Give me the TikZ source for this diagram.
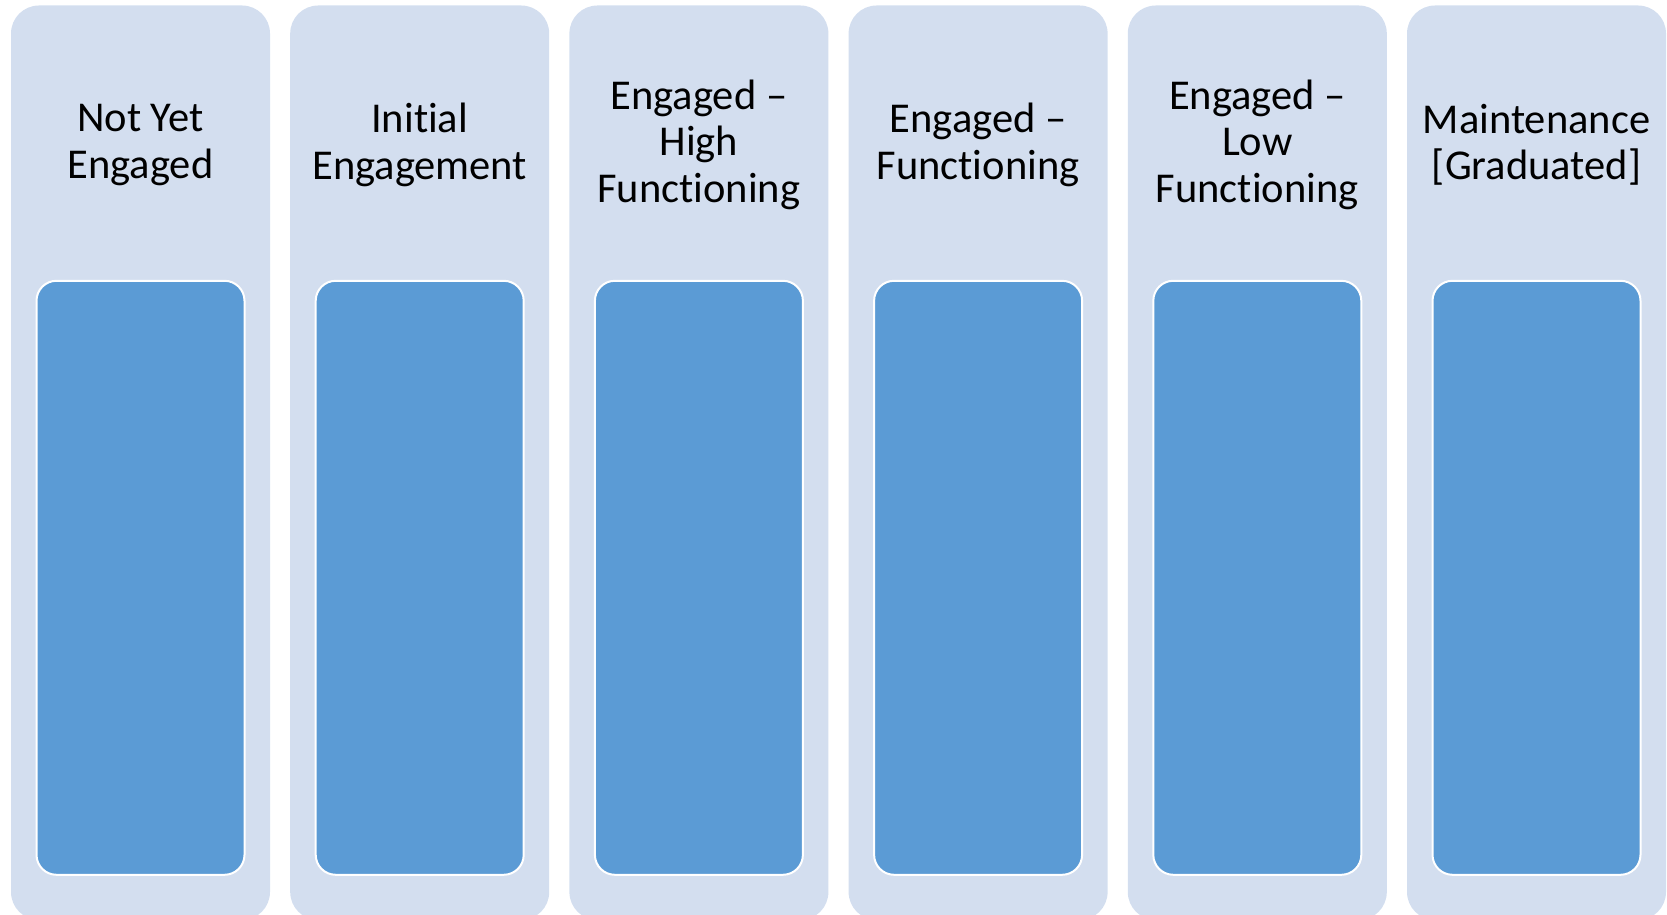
\documentclass[tikz,border=0pt]{standalone}
\usepackage{fontspec}
\setmainfont[RawFeature=-liga]{Carlito}
\usepackage{xcolor}
\usetikzlibrary{positioning}

\definecolor{stagebg}{RGB}{211,222,239}
\definecolor{stagefill}{RGB}{91,155,213}

\begin{document}
\begin{tikzpicture}[
    x=1pt, y=1pt,
    stage/.style={
        fill=stagebg,
        rounded corners=28pt,
        minimum width=259pt,
        minimum height=914.5pt,
        inner sep=0pt
    },
    stagebox/.style={
        fill=stagefill,
        draw=white,
        line width=2pt,
        rounded corners=20pt,
        minimum width=208pt,
        minimum height=594pt,
        inner sep=0pt
    },
    stagetext/.style={
        align=center,
        font=\fontsize{42.5}{46.5}\selectfont
    }
]

\useasboundingbox (0,0) rectangle (1667,915);

% columns
\node[stage] (notyet) at (140.5,452.25) {};
\node[stage, right=19.8pt of notyet] (initial) {};
\node[stage, right=19.8pt of initial] (highfunc) {};
\node[stage, right=19.8pt of highfunc] (func) {};
\node[stage, right=19.8pt of func] (lowfunc) {};
\node[stage, right=19.8pt of lowfunc] (maint) {};

% inner boxes
\node[stagebox, below=274.5pt of notyet.north] (notyetbox) {};
\node[stagebox, below=274.5pt of initial.north] (initialbox) {};
\node[stagebox, below=274.5pt of highfunc.north] (highfuncbox) {};
\node[stagebox, below=274.5pt of func.north] (funcbox) {};
\node[stagebox, below=274.5pt of lowfunc.north] (lowfuncbox) {};
\node[stagebox, below=274.5pt of maint.north] (maintbox) {};

% headings
\node[stagetext, below=139.5pt of notyet.north, anchor=center] (notyettext)
    {Not Yet\\Engaged};
\node[stagetext, below=139.5pt of initial.north, anchor=center] (initialtext)
    {Initial\\Engagement};
\node[stagetext, below=139.5pt of highfunc.north, anchor=center] (highfunctext)
    {Engaged --\\High\\Functioning};
\node[stagetext, below=139.5pt of func.north, anchor=center] (functext)
    {Engaged --\\Functioning};
\node[stagetext, below=139.5pt of lowfunc.north, anchor=center] (lowfunctext)
    {Engaged --\\Low\\Functioning};
\node[stagetext, below=139.5pt of maint.north, anchor=center] (mainttext)
    {Maintenance\\{[}Graduated{]}};

\end{tikzpicture}
\end{document}
